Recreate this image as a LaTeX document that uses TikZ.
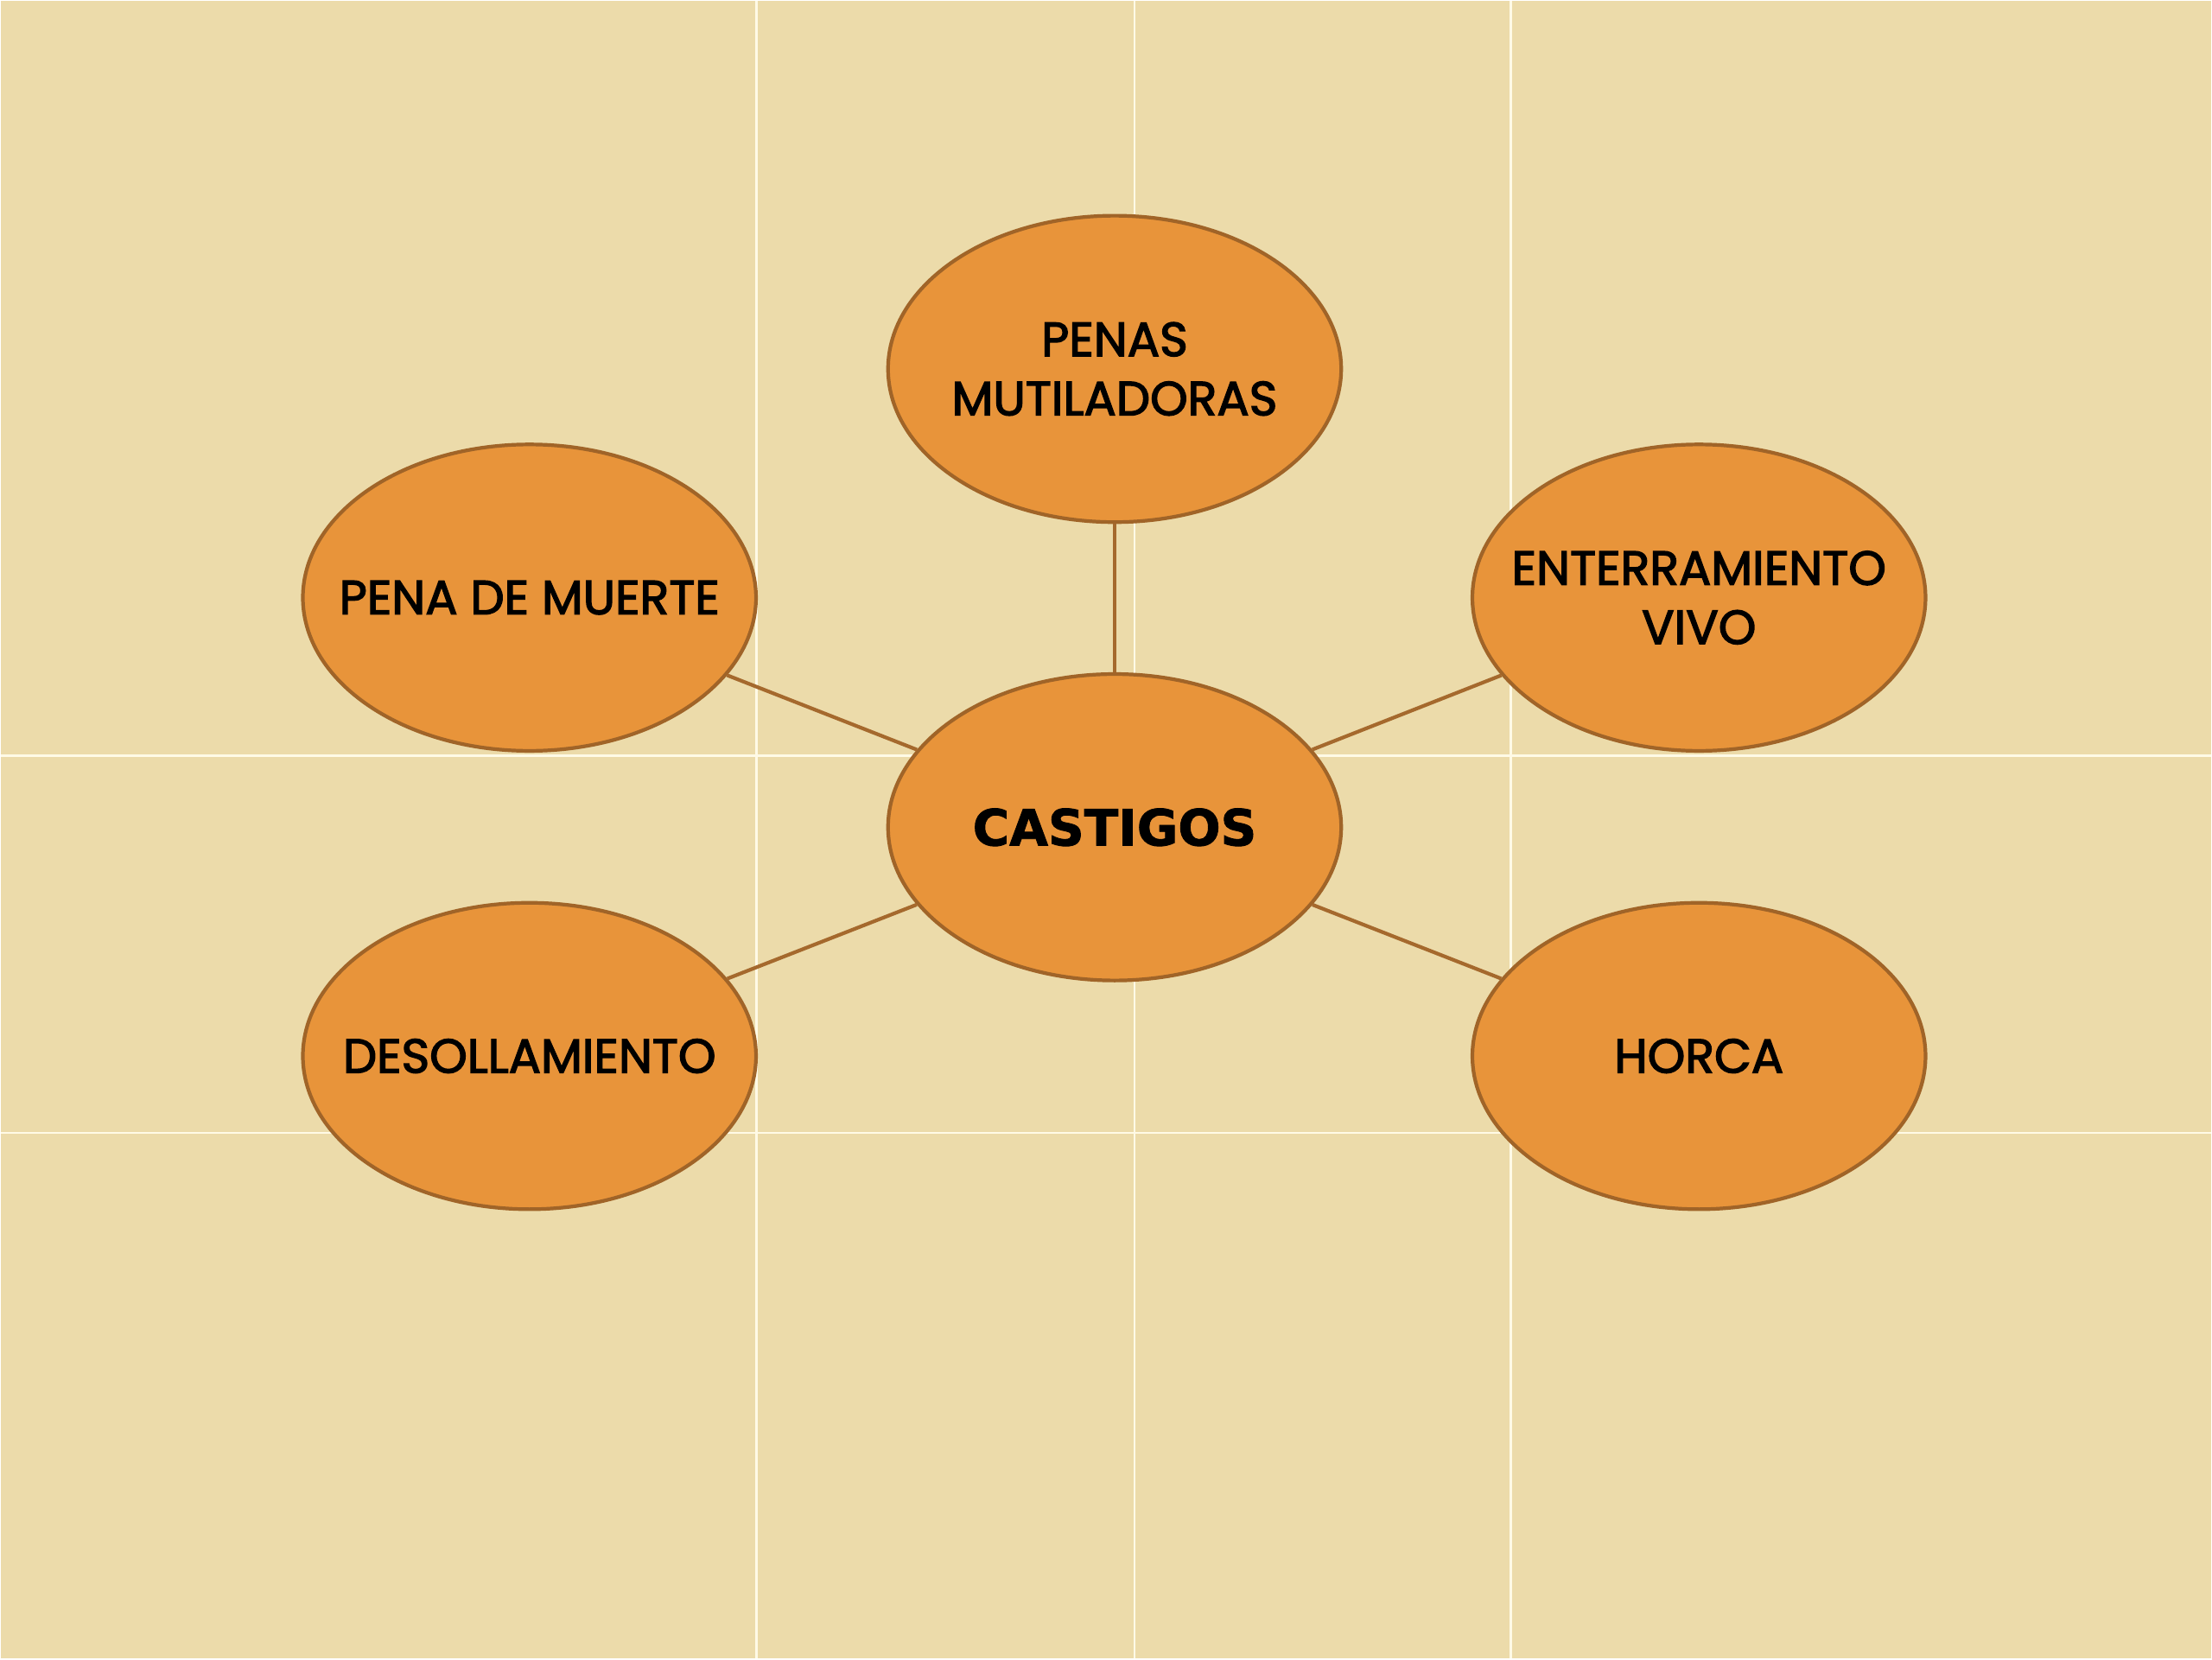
\documentclass[tikz,border=0pt]{standalone}
\usepackage{fontspec}
\setmainfont{Poppins}[FakeBold=2.5]
\newfontfamily\headfont{DejaVu Sans}[BoldFeatures={FakeBold=1.5}]
\usetikzlibrary{shapes.geometric,backgrounds}
\definecolor{papyrus}{RGB}{236,219,170}
\definecolor{tileline}{RGB}{255,250,230}
\definecolor{bubblefill}{RGB}{232,148,58}
\definecolor{bubbleedge}{RGB}{160,100,40}
\definecolor{linkcol}{RGB}{165,105,45}

\tikzset{
  bubble/.style={ellipse, draw=bubbleedge, fill=bubblefill, line width=1.2pt,
    minimum width=5.25cm, minimum height=3.55cm, inner xsep=-8mm, inner ysep=0pt,
    align=center, font=\fontsize{15.8}{19.5}\selectfont},
  link/.style={draw=linkcol, line width=1.2pt},
  seam/.style={draw=tileline, line width=0.8pt}
}

\begin{document}
\begin{tikzpicture}
% fondo
\fill[papyrus] (0,0) rectangle (25.6,19.2);
\foreach \x in {8.75,13.13,17.49}
  \draw[seam] (\x,0) -- (\x,19.2);
\foreach \y in {10.46,6.09}
  \draw[seam] (0,\y) -- (25.6,\y);

\node[bubble, font=\headfont\bfseries\fontsize{16.5}{19}\selectfont] (cast) at (12.90,9.63) {CASTIGOS};
\node[bubble] (mutil) at (12.90,14.94) {PENAS\\MUTILADORAS};
\node[bubble] (muerte) at (6.12,12.29) {PENA DE MUERTE};
\node[bubble] (enterr) at (19.67,12.29) {ENTERRAMIENTO\\VIVO};
\node[bubble] (desoll) at (6.12,6.98) {DESOLLAMIENTO};
\node[bubble] (horca) at (19.67,6.98) {HORCA};

\foreach \t in {mutil,muerte,enterr,desoll,horca}
  \draw[link] (cast) -- (\t);
\end{tikzpicture}
\end{document}
